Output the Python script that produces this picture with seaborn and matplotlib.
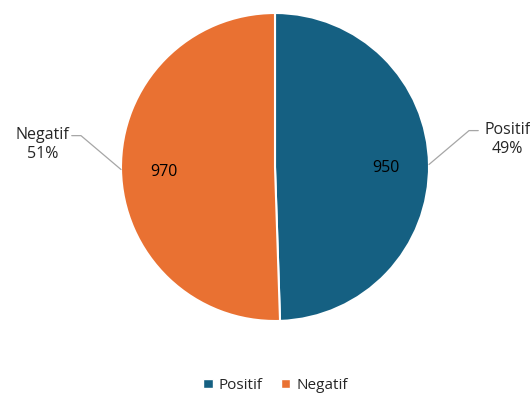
import numpy as np
import matplotlib.pyplot as plt
import seaborn as sns
from matplotlib.patches import Patch

sns.set_theme(style="white")
plt.rcParams['font.family'] = ['Open Sans', 'DejaVu Sans']

labels = ['Positif', 'Negatif']
values = [950, 970]
colors = ['#156082', '#E97132']

fig = plt.figure(figsize=(5.3, 3.98), dpi=100)
# axes over the whole figure, 154 px per unit so the pie is round
ax = fig.add_axes([0, 0, 1, 1])

total = sum(values)
wedges, texts, autotexts = ax.pie(
    values, colors=colors, startangle=90, counterclock=False,
    autopct=lambda p: f"{round(p * total / 100)}", pctdistance=0.72,
    wedgeprops=dict(edgecolor='white', linewidth=1.5),
    textprops=dict(fontsize=11.5, color='black'), frame=True)
ax.set_xlim(-275 / 154, 255 / 154)
ax.set_ylim((167 - 398) / 154, 167 / 154)
ax.set_aspect('auto')
ax.axis('off')
for t in autotexts:
    x, y = t.get_position()
    t.set_position((x, y - 0.02))

# outside labels with leader lines
for w, lab, v in zip(wedges, labels, values):
    th = np.deg2rad((w.theta1 + w.theta2) / 2)
    ex, ey = np.cos(th), np.sin(th)
    s = 1 if ex > 0 else -1
    kx, ky = ex + s * 0.26, ey + 0.22
    hx = kx + s * 0.06
    ax.plot([ex, kx, hx], [ey, ky, ky], color='#a6a6a6', lw=0.9)
    ax.text(hx + s * 0.19, ky - 0.06, f"{lab}\n{round(v / total * 100)}%",
            ha='center', va='center', fontsize=11.5, linespacing=1.25)

handles = [Patch(facecolor=c, label=l) for c, l in zip(colors, labels)]
fig.legend(handles=handles, loc='center', bbox_to_anchor=(0.52, 0.032),
           ncol=2, frameon=False, fontsize=11, handlelength=0.6,
           handleheight=0.6, handletextpad=0.4, columnspacing=1.2)

plt.savefig('out.png', dpi=100)
